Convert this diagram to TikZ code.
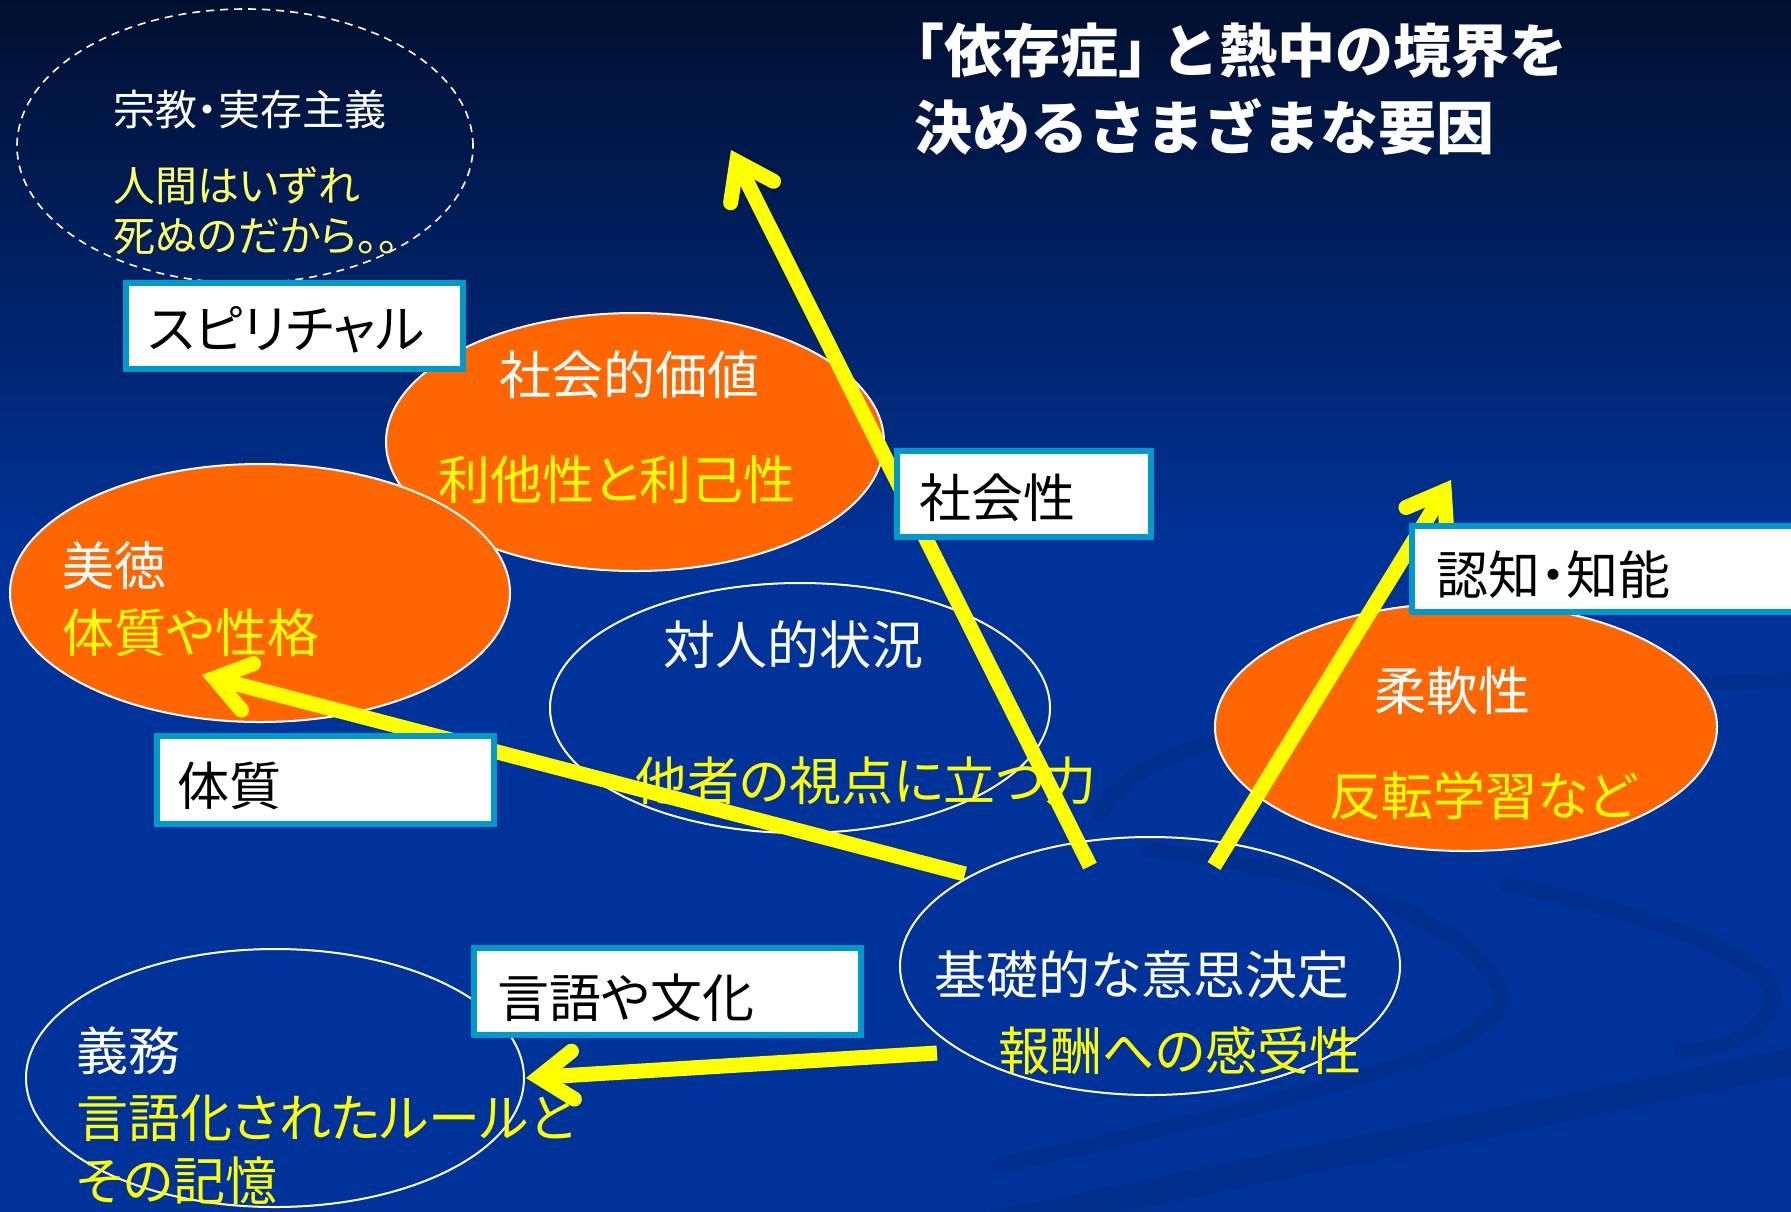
\documentclass[tikz,border=0pt]{standalone}
\usepackage{fontspec}
\setmainfont{Noto Sans CJK JP}[RawFeature=+palt]
\newfontfamily\fullwfont{Noto Sans CJK JP}
\usetikzlibrary{arrows.meta,shapes.geometric}
\definecolor{bgblue}{HTML}{003399}
\definecolor{bgtop}{HTML}{000E2C}
\definecolor{orng}{HTML}{FF6600}
\definecolor{bbord}{HTML}{0099CC}
\definecolor{ylw}{HTML}{FFFF00}
\definecolor{paley}{HTML}{FFFF66}
\definecolor{swirlc}{HTML}{002F8D}
\begin{document}
\begin{tikzpicture}[x=0.5pt,y=-0.5pt,
  oval/.style={ellipse, draw=white, line width=1pt, inner sep=0pt},
  ofill/.style={oval, fill=orng},
  dashoval/.style={ellipse, draw=white, line width=0.8pt, dash pattern=on 4pt off 3pt, inner sep=0pt},
  lbox/.style={rectangle, draw=bbord, line width=3pt, fill=white, inner sep=0pt},
  big/.style={font=\fontsize{26pt}{30pt}\selectfont, inner sep=0pt},
  small/.style={font=\fontsize{21pt}{25pt}\selectfont, inner sep=0pt},
  wt/.style={big, text=white},
  yt/.style={big, text=ylw},
  kt/.style={big, text=black},
  ttl/.style={font=\fullwfont\bfseries\fontsize{29pt}{35pt}\selectfont, inner sep=0pt, text=white},
  yarrow/.style={draw=ylw, line width=7.5pt, -{Straight Barb[length=17pt,width=24pt,line cap=round,line join=miter]}},
  swirl/.style={draw=swirlc, line width=8pt, line cap=round}
]
\useasboundingbox (0,0) rectangle (1791,1211);
% background
\fill[bgblue] (-20,-20) rectangle (1811,1231);
\shade[top color=bgtop, bottom color=bgblue] (-20,-20) rectangle (1811,560);
% faint swirls
\begin{scope}
\clip (-20,-20) rectangle (1811,1231);
\draw[swirl] (1100,815) .. controls (1130,730) and (1400,690) .. (1800,680);
\draw[swirl] (1150,850) .. controls (1330,870) and (1470,920) .. (1500,990) .. controls (1520,1040) and (1350,1090) .. (1000,1165);
\draw[swirl] (1505,883) .. controls (1680,920) and (1790,970) .. (1772,1005) .. controls (1755,1040) and (1720,1050) .. (1681,1051);
\draw[draw=swirlc, line width=14pt] (990,1225) -- (1811,1058);
\end{scope}

% ellipses
\node[dashoval, minimum width=228pt, minimum height=137pt] (relig) at (245,146) {};
\node[ofill, minimum width=249pt, minimum height=129pt] (social) at (635,442) {};
\node[ofill, minimum width=250pt, minimum height=129pt] (virtue) at (260,593) {};
\node[oval, minimum width=250pt, minimum height=125pt] (inter) at (800,708) {};
\node[ofill, minimum width=251pt, minimum height=124pt] (flex) at (1466,727) {};
\node[oval, minimum width=250pt, minimum height=129pt] (basic) at (1150,966) {};
\node[oval, minimum width=249pt, minimum height=129pt] (duty) at (275,1078) {};

% ellipse texts
\node[small, text=white, anchor=base west] (t1) at (113,125) {宗教・実存主義};
\node[small, text=paley, anchor=base west] (t2) at (113,201) {人間はいずれ};
\node[small, text=paley, anchor=base west] (t3) at (113,251) {死ぬのだから。。};
\node[ttl, anchor=base west] (ti1) at (886,72) {「依存症」\kern-.25em と熱中の境界を};
\node[ttl, anchor=base west] (ti2) at (914,149) {決めるさまざまな要因};
\node[wt, anchor=base] (t4) at (629,394) {社会的価値};
\node[yt, anchor=base] (t5) at (617,499) {利他性と利己性};
\node[wt, anchor=base west] (t6) at (62,585) {美徳};
\node[yt, anchor=base west] (t7) at (62,652) {体質や性格};
\node[wt, anchor=base] (t8) at (793,664) {対人的状況};
\node[yt, anchor=base] (t9) at (866,800) {他者の視点に立つ力};
\node[wt, anchor=base] (t10) at (1452,710) {柔軟性};
\node[yt, anchor=base] (t11) at (1483,815) {反転学習など};
\node[wt, anchor=base] (t12) at (1142,994) {基礎的な意思決定};
\node[yt, anchor=base] (t13) at (1180,1070) {報酬への感受性};
\node[wt, anchor=base west] (t14) at (76,1070) {義務};
\node[yt, anchor=base west] (t15) at (76,1137) {言語化されたルールと};
\node[yt, anchor=base west] (t16) at (76,1200) {その記憶};

% arrows
\coordinate (a1s) at (1090,866);
\coordinate (a1e) at (731,150);
\coordinate (a2s) at (1214,866);
\coordinate (a2e) at (1451,480);
\coordinate (a3s) at (965,874);
\coordinate (a3e) at (202,675);
\coordinate (a4s) at (937,1053);
\coordinate (a4e) at (526,1078);
\draw[yarrow] (a1s) -- (a1e);
\draw[yarrow] (a2s) -- (a2e);
\draw[yarrow] (a3s) -- (a3e);
\draw[yarrow] (a4s) -- (a4e);

% label boxes
\node[lbox, minimum width=168.5pt, minimum height=43pt] (bspirit) at (294.5,326) {};
\node[lbox, minimum width=168.5pt, minimum height=44pt] (bbody) at (325.5,780) {};
\node[lbox, minimum width=127pt, minimum height=43pt] (bsoc) at (1024,494) {};
\node[lbox, minimum width=192.5pt, minimum height=43pt] (bcog) at (1604.5,569) {};
\node[lbox, minimum width=193.5pt, minimum height=43.5pt] (blang) at (667.5,991.5) {};
\node[kt, anchor=base west] (k1) at (148,348) {スピリチャル};
\node[kt, anchor=base west] (k2) at (177,805) {体質};
\node[kt, anchor=base west] (k3) at (919,517) {社会性};
\node[kt, anchor=base west] (k4) at (1436,594) {認知・知能};
\node[kt, anchor=base west] (k5) at (497,1017) {言語や文化};
\end{tikzpicture}
\end{document}
